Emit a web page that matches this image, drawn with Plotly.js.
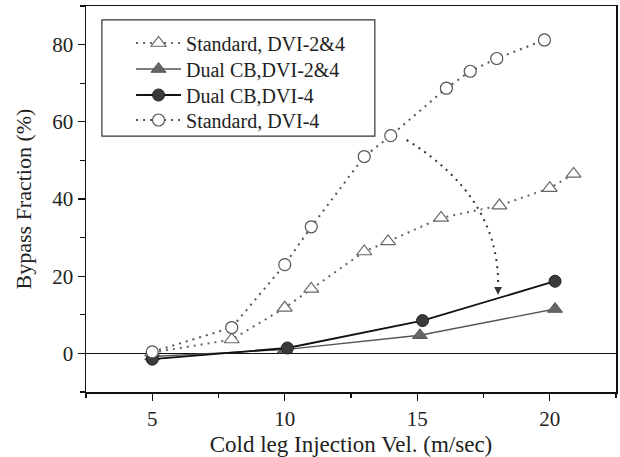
<!DOCTYPE html>
<html>
<head>
<meta charset="utf-8">
<script src="https://cdn.plot.ly/plotly-3.0.1.min.js"></script>
<style>html,body{margin:0;padding:0;background:#fff;}#chart{width:620px;height:457px;}</style>
</head>
<body>
<div id="chart"></div>
<script>
// Series data
const stdDvi24X = [5, 8, 10, 11, 13, 13.9, 15.9, 18.1, 20, 20.9];
const stdDvi24Y = [0.2, 3.6, 11.8, 16.7, 26.4, 29.0, 35.1, 38.3, 42.8, 46.5];

const dualDvi24X = [5, 10, 15.1, 20.2];
const dualDvi24Y = [-0.8, 1.0, 4.7, 11.5];

const dualDvi4X = [5, 10.1, 15.2, 20.2];
const dualDvi4Y = [-1.5, 1.4, 8.5, 18.7];

const stdDvi4X = [5, 8, 10, 11, 13, 14, 16.1, 17, 18, 19.8];
const stdDvi4Y = [0.4, 6.7, 23.0, 32.8, 51.0, 56.4, 68.7, 73.1, 76.4, 81.2];

const seriesNames = ["Standard, DVI-2&4", "Dual CB,DVI-2&4", "Dual CB,DVI-4", "Standard, DVI-4"];

// Curved arrow annotation (start, control, end in data units)
const arrowStart = [14.6, 55.3];
const arrowCtrl = [18.1, 40.5];
const arrowEnd = [18.05, 17.5];
const arrowTip = [18.05, 15.2];

const xTitle = "Cold leg Injection Vel. (m/sec)";
const yTitle = "Bypass Fraction (%)";

const FONT = "Liberation Serif, Times New Roman, serif";
const dotDash = "2px,5px";

const traces = [
  {x: stdDvi24X, y: stdDvi24Y, name: seriesNames[0], mode: "lines+markers", legend: "legend",
   line: {color: "#666", width: 2, dash: dotDash},
   marker: {symbol: "triangle-up", size: 13, color: "#fff", line: {color: "#666", width: 1.2}}},
  {x: dualDvi24X, y: dualDvi24Y, name: seriesNames[1], mode: "lines+markers", legend: "legend2",
   line: {color: "#555", width: 1.3},
   marker: {symbol: "triangle-up", size: 13, color: "#666", line: {color: "#555", width: 1}}},
  {x: dualDvi4X, y: dualDvi4Y, name: seriesNames[2], mode: "lines+markers", legend: "legend3",
   line: {color: "#111", width: 1.8},
   marker: {symbol: "circle", size: 12, color: "#3a3a3a", line: {color: "#222", width: 1}}},
  {x: stdDvi4X, y: stdDvi4Y, name: seriesNames[3], mode: "lines+markers", legend: "legend4",
   line: {color: "#555", width: 2, dash: dotDash},
   marker: {symbol: "circle", size: 12, color: "#fff", line: {color: "#555", width: 1.2}}}
];

const axisCommon = {
  showline: true, linecolor: "#111", linewidth: 1.5, mirror: true,
  showgrid: false, ticks: "outside", ticklen: 7, tickwidth: 1.3, tickcolor: "#111",
  tickfont: {family: FONT, size: 21, color: "#222"}
};

function legendAt(yc) {
  return {
    x: 0.085, y: 1 - (yc - 6) / 386, xanchor: "left", yanchor: "middle",
    bgcolor: "rgba(0,0,0,0)", borderwidth: 0,
    font: {family: FONT, size: 20, color: "#222"},
    itemwidth: 45
  };
}

const layout = {
  width: 620, height: 457,
  margin: {l: 86, r: 4, t: 6, b: 65},
  paper_bgcolor: "#fff", plot_bgcolor: "#fff",
  showlegend: true,
  font: {family: FONT, color: "#222"},
  xaxis: Object.assign({}, axisCommon, {
    range: [2.5, 22.5], tick0: 0, dtick: 5, zeroline: false,
    minor: {dtick: 2.5, ticklen: 4, ticks: "outside", tickcolor: "#111", tickwidth: 1.2},
    title: {text: xTitle, font: {family: FONT, size: 23, color: "#222"}, standoff: 6}
  }),
  yaxis: Object.assign({}, axisCommon, {
    range: [-10, 90], tick0: 0, dtick: 20,
    zeroline: true, zerolinecolor: "#111", zerolinewidth: 1.5,
    minor: {dtick: 10, ticklen: 5, ticks: "outside", tickcolor: "#111", tickwidth: 1.2},
    title: {text: yTitle, font: {family: FONT, size: 22, color: "#222"}, standoff: 14}
  }),
  legend: legendAt(43),
  legend2: legendAt(69),
  legend3: legendAt(95),
  legend4: legendAt(120),
  shapes: [
    {type: "rect", xref: "paper", yref: "paper",
     x0: 0.030, x1: 0.545, y0: 0.663, y1: 0.964,
     line: {color: "#333", width: 1.2}, fillcolor: "rgba(0,0,0,0)"},
    {type: "path", xref: "x", yref: "y",
     path: "M " + arrowStart[0] + "," + arrowStart[1] + " Q " + arrowCtrl[0] + "," + arrowCtrl[1] + " " + arrowEnd[0] + "," + arrowEnd[1],
     line: {color: "#333", width: 2, dash: dotDash}}
  ],
  annotations: [
    {x: arrowTip[0], y: arrowTip[1], ax: arrowEnd[0], ay: arrowEnd[1],
     xref: "x", yref: "y", axref: "x", ayref: "y",
     showarrow: true, arrowhead: 2, arrowsize: 1.3, arrowwidth: 1.2, arrowcolor: "#333", text: ""}
  ]
};

Plotly.newPlot("chart", traces, layout, {displayModeBar: false, staticPlot: true});
</script>
</body>
</html>
